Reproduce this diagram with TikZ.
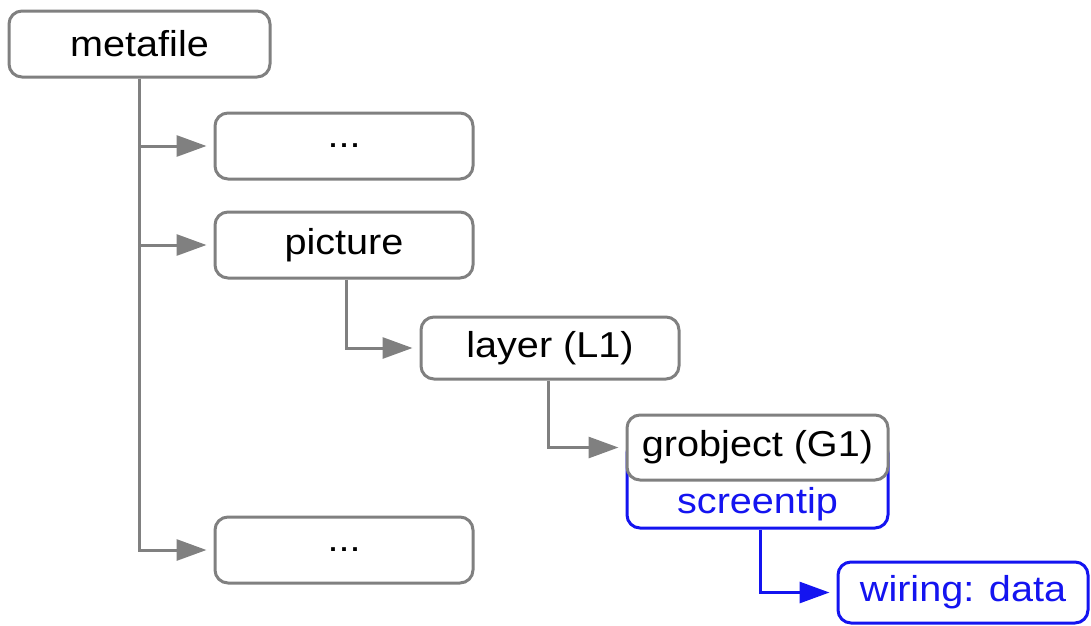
\documentclass[tikz,border=0pt]{standalone}
\usepackage{fontspec}
\setmainfont{Liberation Sans}[FakeStretch=1.1]
\usetikzlibrary{arrows.meta}
\definecolor{lgray}{RGB}{128,128,128}
\definecolor{tipblue}{RGB}{20,20,240}
\begin{document}
\begin{tikzpicture}[x=1pt,y=-1pt,
  box/.style={draw=lgray, line width=3pt, rounded corners=13pt, fill=white,
    minimum width=258pt, minimum height=64pt, inner sep=0pt,
    font=\fontsize{36}{40}\selectfont},
  conn/.style={draw=lgray, line width=3pt, -{Triangle[length=30pt,width=21pt]}, shorten >=7pt},
  blueconn/.style={conn, draw=tipblue}]
\useasboundingbox (0,0) rectangle (1091,625);
\node[box, minimum width=261pt, minimum height=66pt] (meta) at (139.5,44) {metafile};
\node[box, minimum height=66pt] (dotsA) at (344,146) {...};
\node[box, minimum height=66pt] (pic) at (344,245) {picture};
\node[box, minimum height=62pt] (layer) at (550,348) {layer (L1)};
\node[box, draw=tipblue, text=tipblue, minimum width=261pt, text height=73pt, text depth=15pt] (tip) at (757.5,484) {screentip};
\node[box, minimum width=261pt, minimum height=65pt] (grob) at (757.5,447.5) {grobject (G1)};
\node[box, minimum height=66pt] (dotsB) at (344,550) {...};
\node[box, draw=tipblue, text=tipblue, minimum width=250pt, minimum height=61pt] (wire) at (963,592.5) {wiring: data};
\draw[conn] (meta.south) |- (dotsA.west);
\draw[conn] (meta.south) |- (pic.west);
\draw[conn] (meta.south) |- (dotsB.west);
\draw[conn] ([xshift=2pt]pic.south) |- (layer.west);
\draw[conn] ([xshift=-2pt]layer.south) |- (grob.west);
\draw[blueconn] ([xshift=2.5pt]tip.south) |- (wire.west);
\end{tikzpicture}
\end{document}
